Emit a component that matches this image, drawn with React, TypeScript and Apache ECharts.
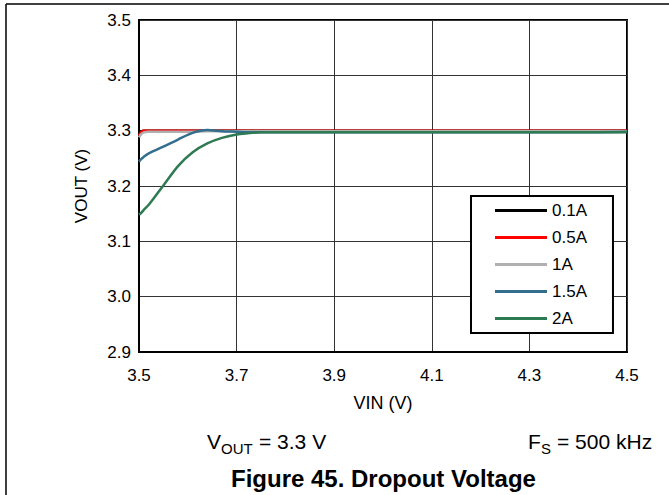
import React, { useEffect, useRef } from "react";
import * as echarts from "echarts";

const seriesNames = ["0.1A", "0.5A", "1A", "1.5A", "2A"];
const seriesColors = ["#000000", "#ff0000", "#b0b0b0", "#336e8f", "#2e7a52"];

const vin = [3.5, 3.505, 3.51, 3.52, 3.55, 3.58, 3.61, 3.64, 3.67, 3.7, 3.72, 3.75, 3.8, 3.9, 4.0, 4.1, 4.2, 4.3, 4.4, 4.5];

const vout01 = [3.294, 3.299, 3.3, 3.3, 3.3, 3.3, 3.3, 3.3, 3.3, 3.3, 3.3, 3.3, 3.3, 3.3, 3.3, 3.3, 3.3, 3.3, 3.3, 3.3];
const vout05 = [3.291, 3.298, 3.3, 3.3, 3.3, 3.3, 3.3, 3.3, 3.3, 3.3, 3.3, 3.3, 3.3, 3.3, 3.3, 3.3, 3.3, 3.3, 3.3, 3.3];
const vout1 = [3.288, 3.294, 3.297, 3.298, 3.298, 3.298, 3.298, 3.299, 3.299, 3.299, 3.299, 3.299, 3.299, 3.299, 3.299, 3.299, 3.299, 3.299, 3.299, 3.299];
const vout15 = [3.244, 3.249, 3.253, 3.259, 3.271, 3.284, 3.296, 3.301, 3.299, 3.298, 3.297, 3.297, 3.297, 3.297, 3.297, 3.297, 3.297, 3.297, 3.297, 3.298];
const vout2 = [3.148, 3.152, 3.157, 3.166, 3.201, 3.236, 3.261, 3.277, 3.287, 3.293, 3.295, 3.297, 3.297, 3.297, 3.297, 3.297, 3.297, 3.297, 3.297, 3.297];

const allSeries = [vout01, vout05, vout1, vout15, vout2];

const xTicks = [3.5, 3.7, 3.9, 4.1, 4.3, 4.5];
const yTicks = [2.9, 3.0, 3.1, 3.2, 3.3, 3.4, 3.5];

const FONT = "'Liberation Sans', Arial, sans-serif";

export default function App() {
  const ref = useRef<HTMLDivElement>(null);
  useEffect(() => {
    if (!ref.current) return;
    const chart = echarts.init(ref.current, undefined, { renderer: "svg" });
    chart.setOption({
      animation: false,
      backgroundColor: "#ffffff",
      textStyle: { fontFamily: FONT },
      grid: {
        left: 139,
        right: 42,
        top: 20,
        bottom: 143,
        show: true,
        borderColor: "#000",
        borderWidth: 2,
        containLabel: false,
      },
      xAxis: {
        type: "value",
        min: xTicks[0],
        max: xTicks[xTicks.length - 1],
        interval: 0.2,
        name: "VIN (V)",
        nameLocation: "middle",
        nameGap: 42,
        nameTextStyle: { fontSize: 18, color: "#000", fontFamily: FONT },
        axisLine: { show: true, lineStyle: { color: "#000", width: 2 } },
        axisTick: { show: false },
        splitLine: { show: true, lineStyle: { color: "#333", width: 1 } },
        axisLabel: {
          color: "#000",
          fontSize: 17,
          margin: 15,
          fontFamily: FONT,
          formatter: (v: number) => v.toFixed(1),
        },
      },
      yAxis: {
        type: "value",
        min: yTicks[0],
        max: yTicks[yTicks.length - 1],
        interval: 0.1,
        name: "VOUT (V)",
        nameLocation: "middle",
        nameGap: 49,
        nameTextStyle: { fontSize: 17, color: "#000", fontFamily: FONT },
        axisLine: { show: true, lineStyle: { color: "#000", width: 2 } },
        axisTick: { show: false },
        splitLine: { show: true, lineStyle: { color: "#333", width: 1 } },
        axisLabel: {
          color: "#000",
          fontSize: 17,
          margin: 8,
          fontFamily: FONT,
          formatter: (v: number) => v.toFixed(1),
        },
      },
      legend: {
        show: true,
        orient: "vertical",
        left: 471,
        top: 196,
        padding: [6, 26, 6, 24],
        itemGap: 10,
        itemWidth: 52,
        itemHeight: 3,
        icon: "rect",
        backgroundColor: "#fff",
        borderColor: "#000",
        borderWidth: 2,
        borderRadius: 0,
        textStyle: { fontSize: 17, color: "#000", fontFamily: FONT },
        data: seriesNames,
      },
      series: allSeries.map((vals, i) => ({
        name: seriesNames[i],
        type: "line",
        smooth: 0.3,
        symbol: "none",
        color: seriesColors[i],
        lineStyle: { color: seriesColors[i], width: 2.5 },
        data: vin.map((x, j) => [x, vals[j]]),
        z: 2 + i,
      })),
      graphic: [
        {
          type: "line",
          z: 100,
          shape: { x1: 6, y1: 4, x2: 669, y2: 4 },
          style: { stroke: "#000", lineWidth: 1.5 },
        },
        {
          type: "line",
          z: 100,
          shape: { x1: 6, y1: 4, x2: 6, y2: 495 },
          style: { stroke: "#000", lineWidth: 1.5 },
        },
        {
          type: "text",
          left: 207,
          top: 431,
          style: { text: "V", fontSize: 21, fill: "#000", fontFamily: FONT },
        },
        {
          type: "text",
          left: 221,
          top: 441,
          style: { text: "OUT", fontSize: 15, fill: "#000", fontFamily: FONT },
        },
        {
          type: "text",
          left: 259,
          top: 431,
          style: { text: "= 3.3 V", fontSize: 21, fill: "#000", fontFamily: FONT },
        },
        {
          type: "text",
          left: 528,
          top: 431,
          style: { text: "F", fontSize: 21, fill: "#000", fontFamily: FONT },
        },
        {
          type: "text",
          left: 541,
          top: 441,
          style: { text: "S", fontSize: 15, fill: "#000", fontFamily: FONT },
        },
        {
          type: "text",
          left: 557,
          top: 431,
          style: { text: "= 500 kHz", fontSize: 21, fill: "#000", fontFamily: FONT },
        },
        {
          type: "text",
          left: 231,
          top: 466,
          style: {
            text: "Figure 45. Dropout Voltage",
            fontSize: 24,
            fontWeight: "bold",
            fill: "#000",
            fontFamily: FONT,
          },
        },
      ],
    });
    return () => chart.dispose();
  }, []);
  return (
    <div
      ref={ref}
      style={{ position: "absolute", left: 0, top: 0, width: 669, height: 495 }}
    />
  );
}
